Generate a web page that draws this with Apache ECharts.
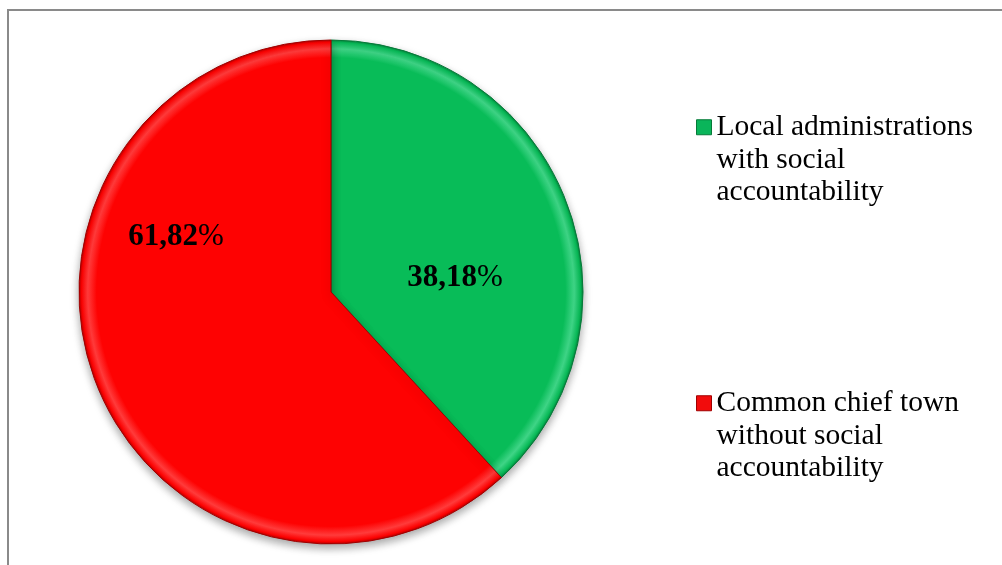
<!DOCTYPE html>
<html>
<head>
<meta charset="utf-8">
<script src="https://cdn.jsdelivr.net/npm/echarts@6/dist/echarts.min.js"></script>
<style>
html,body{margin:0;padding:0;background:#fff;}
#chart{width:1002px;height:565px;}
</style>
</head>
<body>
<div id="chart"></div>
<script>
var categories = [
  'Local administrations\nwith social\naccountability',
  'Common chief town\nwithout social\naccountability'
];
var labelNumbers = ['38,18', '61,82'];
var values = [38.18, 61.82];

var CX = 331, CY = 292, R = 252;
function rim(base, light, dark) {
  return {
    type: 'radial', x: CX, y: CY, r: R, global: true,
    colorStops: [
      {offset: 0, color: base},
      {offset: 0.93, color: base},
      {offset: 0.965, color: light},
      {offset: 0.99, color: base},
      {offset: 1, color: dark}
    ]
  };
}
var styles = [
  {color: rim('#08BC58', '#3fd486', '#05843e'), borderColor: '#067a38'},
  {color: rim('#FE0202', '#ff3b3b', '#b80000'), borderColor: '#a00000'}
];
var iconColors = ['#0ab55a', '#f20c0c'];
var labelPos = [[455, 278], [176, 237]];

var chart = echarts.init(document.getElementById('chart'));
var data = categories.map(function (c, i) {
  return {
    name: c,
    value: values[i],
    itemStyle: {
      color: styles[i].color,
      borderColor: styles[i].borderColor,
      borderWidth: 1,
      shadowBlur: 8,
      shadowOffsetY: 4,
      shadowColor: 'rgba(0,0,0,0.35)'
    },
    label: {
      formatter: '{b|' + labelNumbers[i] + '}{p|%}'
    }
  };
});

var legendText = {
  fontFamily: 'Liberation Serif',
  fontSize: 29.5,
  lineHeight: 32.5,
  color: '#000'
};
function legendFmt(name) { return '\n\n' + name; }

chart.setOption({
  animation: false,
  graphic: [{
    type: 'rect',
    shape: {x: 8, y: 10, width: 1010, height: 600},
    style: {fill: 'none', stroke: '#8a8a8a', lineWidth: 2},
    silent: true,
    z: -10
  }],
  legend: [
    {
      data: [{name: categories[0], itemStyle: {color: iconColors[0], borderColor: '#067a38', borderWidth: 1}}],
      left: 696, top: 46, orient: 'vertical', padding: 0,
      icon: 'rect', itemWidth: 15, itemHeight: 15, itemGap: 0,
      formatter: legendFmt,
      textStyle: legendText
    },
    {
      data: [{name: categories[1], itemStyle: {color: iconColors[1], borderColor: '#a00000', borderWidth: 1}}],
      left: 696, top: 322, orient: 'vertical', padding: 0,
      icon: 'rect', itemWidth: 15, itemHeight: 15, itemGap: 0,
      formatter: legendFmt,
      textStyle: legendText
    }
  ],
  series: [{
    type: 'pie',
    center: [CX, CY],
    radius: R,
    startAngle: 90,
    clockwise: true,
    data: data,
    label: {
      show: true,
      position: 'inside',
      fontFamily: 'Liberation Serif',
      rich: {
        b: {fontFamily: 'Liberation Serif', fontSize: 31, fontWeight: 'bold', color: '#000'},
        p: {fontFamily: 'Liberation Serif', fontSize: 31, fontWeight: 'normal', color: '#000'}
      }
    },
    labelLine: {show: false},
    labelLayout: function (params) {
      var p = labelPos[params.dataIndex];
      return {x: p[0], y: p[1], align: 'center', verticalAlign: 'middle'};
    },
    emphasis: {disabled: true}
  }]
});
</script>
</body>
</html>
